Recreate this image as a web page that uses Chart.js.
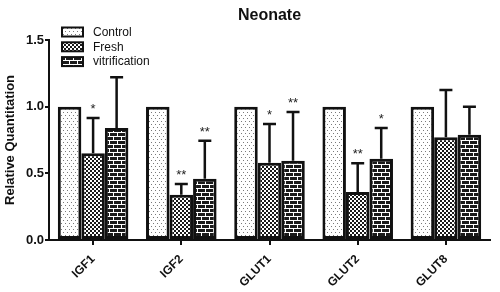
<!DOCTYPE html>
<html>
<head>
<meta charset="utf-8">
<script src="https://cdn.jsdelivr.net/npm/chart.js@4.4.1/dist/chart.umd.min.js"></script>
<style>
html,body{margin:0;padding:0;background:#fff;}
#wrap{width:500px;height:292px;position:relative;}
</style>
</head>
<body>
<div id="wrap"><canvas id="c" width="500" height="292"></canvas></div>
<script>
// ---- data ----
const categories = ['IGF1', 'IGF2', 'GLUT1', 'GLUT2', 'GLUT8'];
const seriesNames = ['Control', 'Fresh', 'vitrification'];
const control = [1.0, 1.0, 1.0, 1.0, 1.0];
const fresh = [0.65, 0.34, 0.58, 0.36, 0.77];
const vitrification = [0.84, 0.46, 0.595, 0.61, 0.79];
const controlErr = [0, 0, 0, 0, 0];
const freshErr = [0.265, 0.08, 0.29, 0.215, 0.355];
const vitrificationErr = [0.38, 0.285, 0.365, 0.23, 0.21];
const controlSig = ['', '', '', '', ''];
const freshSig = ['*', '**', '*', '**', ''];
const vitrificationSig = ['', '**', '**', '*', ''];
const yTicks = [0.0, 0.5, 1.0, 1.5];
const titleText = 'Neonate';
const yTitle = 'Relative Quantitation';

const FONT = "'Liberation Sans', Arial, sans-serif";

// ---- patterns ----
function makePattern(w, h, draw) {
  const c = document.createElement('canvas');
  c.width = w; c.height = h;
  const g = c.getContext('2d');
  draw(g);
  return g.createPattern(c, 'repeat');
}
const patControl = makePattern(4, 6, g => {
  g.fillStyle = '#fff'; g.fillRect(0, 0, 4, 6);
  g.fillStyle = '#7a7a7a';
  g.fillRect(1, 1, 1, 1);
  g.fillRect(3, 4, 1, 1);
});
const patFresh = makePattern(4, 4, g => {
  g.fillStyle = '#fff'; g.fillRect(0, 0, 4, 4);
  g.fillStyle = '#1a1a1a';
  g.fillRect(0, 0, 2, 2);
  g.fillRect(2, 2, 2, 2);
});
const patVitri = makePattern(8, 8, g => {
  g.fillStyle = '#1a1a1a'; g.fillRect(0, 0, 8, 8);
  g.fillStyle = '#fff';
  g.fillRect(0, 0, 8, 1);
  g.fillRect(0, 4, 8, 1);
  g.fillRect(1, 1, 1, 3);
  g.fillRect(5, 5, 1, 3);
});
const patterns = [patControl, patFresh, patVitri];
const errs = [controlErr, freshErr, vitrificationErr];
const sigs = [controlSig, freshSig, vitrificationSig];

// ---- plugins ----
const errorBarPlugin = {
  id: 'errorBars',
  afterDatasetsDraw(chart) {
    const ctx = chart.ctx;
    const y = chart.scales.y;
    ctx.save();
    chart.data.datasets.forEach((ds, di) => {
      const meta = chart.getDatasetMeta(di);
      meta.data.forEach((bar, i) => {
        const e = errs[di][i];
        const v = ds.data[i];
        let capY = y.getPixelForValue(v);
        if (e > 0) {
          capY = y.getPixelForValue(v + e);
          const topY = y.getPixelForValue(v);
          ctx.strokeStyle = '#111';
          ctx.lineWidth = 2.5;
          ctx.beginPath();
          ctx.moveTo(bar.x, topY);
          ctx.lineTo(bar.x, capY);
          ctx.moveTo(bar.x - 6.5, capY);
          ctx.lineTo(bar.x + 6.5, capY);
          ctx.stroke();
        }
        const s = sigs[di][i];
        if (s) {
          ctx.fillStyle = '#222';
          ctx.font = '13px ' + FONT;
          ctx.textAlign = 'center';
          ctx.textBaseline = 'alphabetic';
          ctx.fillText(s, bar.x, capY - 5);
        }
      });
    });
    ctx.restore();
  }
};

const decorPlugin = {
  id: 'decor',
  afterDraw(chart) {
    const ctx = chart.ctx;
    const ca = chart.chartArea;
    ctx.save();
    // title
    ctx.fillStyle = '#111';
    ctx.font = 'bold 16px ' + FONT;
    ctx.textAlign = 'center';
    ctx.textBaseline = 'middle';
    ctx.fillText(titleText, (ca.left + ca.right) / 2, 16);
    // legend
    ctx.font = '12px ' + FONT;
    ctx.textAlign = 'left';
    ctx.textBaseline = 'middle';
    seriesNames.forEach((n, i) => {
      const cy = 32 + i * 14.8;
      ctx.fillStyle = patterns[i];
      ctx.fillRect(62, cy - 4.5, 21, 9);
      ctx.strokeStyle = '#111';
      ctx.lineWidth = 2;
      ctx.strokeRect(62, cy - 4.5, 21, 9);
      ctx.fillStyle = '#111';
      ctx.fillText(n, 93, cy + 0.5);
    });
    ctx.restore();
  }
};

const mk = (label, data, i) => ({
  label, data,
  backgroundColor: patterns[i],
  borderColor: '#111',
  borderWidth: 3,
  borderSkipped: false,
  categoryPercentage: 0.8,
  barPercentage: 1.0
});

new Chart(document.getElementById('c'), {
  type: 'bar',
  data: {
    labels: categories,
    datasets: [
      mk(seriesNames[0], control, 0),
      mk(seriesNames[1], fresh, 1),
      mk(seriesNames[2], vitrification, 2)
    ]
  },
  options: {
    responsive: false,
    animation: false,
    layout: { padding: { top: 40, right: 10, left: 0, bottom: 0 } },
    plugins: {
      legend: { display: false },
      title: { display: false },
      tooltip: { enabled: false }
    },
    scales: {
      x: {
        grid: { display: true, drawOnChartArea: false, drawTicks: true, tickLength: 5, color: '#111', lineWidth: 2, offset: false },
        border: { display: true, color: '#111', width: 2 },
        ticks: { color: '#111', font: { family: FONT, size: 12, weight: 'bold' }, minRotation: 45, maxRotation: 45, padding: 7 },
        afterFit(s) { s.height = 52; }
      },
      y: {
        min: 0, max: 1.5,
        afterBuildTicks(s) { s.ticks = yTicks.map(v => ({ value: v })); },
        grid: { display: true, drawOnChartArea: false, drawTicks: true, tickLength: 4, color: '#111', lineWidth: 2 },
        border: { display: true, color: '#111', width: 2 },
        ticks: { color: '#111', font: { family: FONT, size: 13, weight: 'bold' }, padding: 1, callback: v => Number(v).toFixed(1) },
        title: { display: true, text: yTitle, color: '#111', font: { family: FONT, size: 13, weight: 'bold' }, padding: { top: 3, bottom: 0 } },
        afterFit(s) { s.width = 49; }
      }
    }
  },
  plugins: [errorBarPlugin, decorPlugin]
});
</script>
</body>
</html>
